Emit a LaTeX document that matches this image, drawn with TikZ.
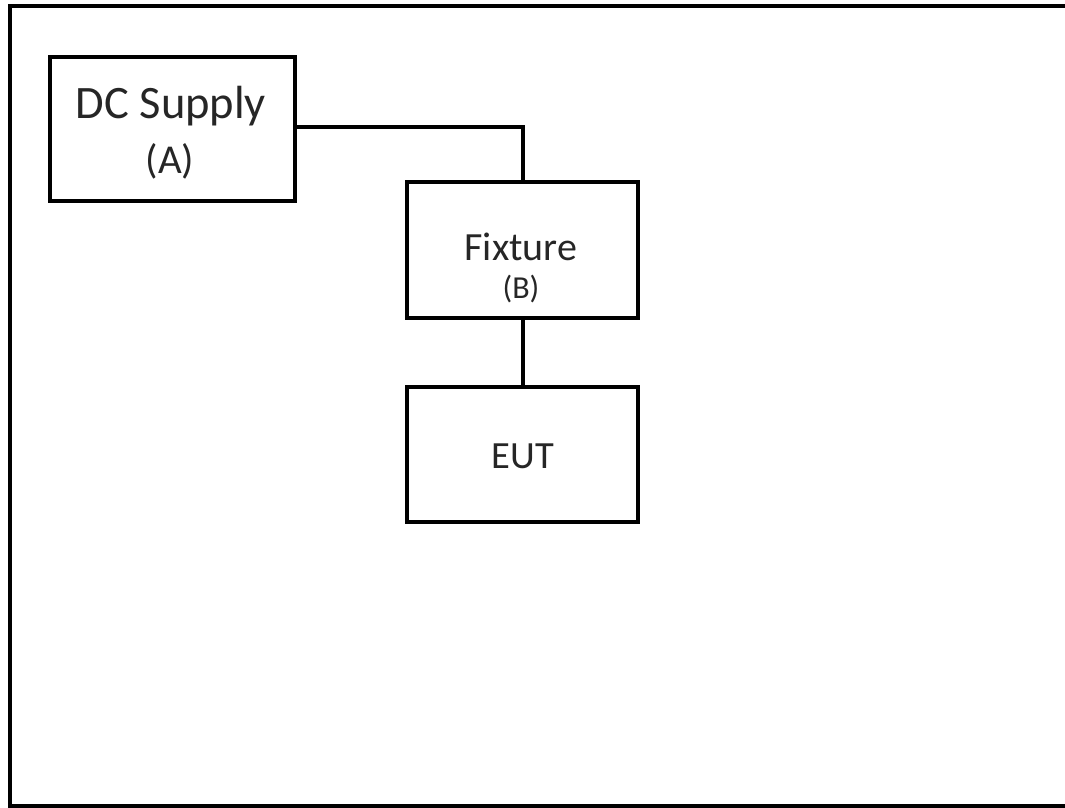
\documentclass[tikz,border=0pt]{standalone}
\usepackage{fontspec}
\setmainfont{Carlito}
\tikzset{
  box/.style={draw=black, line width=4pt, minimum width=231pt, minimum height=136pt, inner sep=0pt},
  wire/.style={draw=black, line width=4pt},
  lbl/.style={anchor=base, inner sep=0pt, text=black!85}
}
\begin{document}
\begin{tikzpicture}[x=1pt,y=-1pt]
\useasboundingbox (0,0) rectangle (1065,808);
\clip (0,0) rectangle (1065,808);
\draw[line width=4pt] (10,6) rectangle (1080,806);
\node[box, minimum width=245pt, minimum height=144pt] (dc) at (172.5,129) {};
\node[box] (fix) at (522.5,250) {};
\node[box, minimum height=135pt] (eut) at (522.5,454.5) {};
\node[lbl, font=\fontsize{46.5}{50}\selectfont] (dct) at (171,118) {DC Supply};
\node[lbl, font=\fontsize{41}{46}\selectfont] (dca) at (170,173) {(A)};
\node[lbl, font=\fontsize{40}{44}\selectfont] (fixt) at (521,260) {Fixture};
\node[lbl, font=\fontsize{32}{38}\selectfont] (fixb) at (521,298) {(B)};
\node[lbl, font=\fontsize{38.5}{42}\selectfont] (eutt) at (523,468) {EUT};
\draw[wire] (dc.east |- 0,127) -| (fix.north);
\draw[wire] (fix.south) -- (eut.north);
\end{tikzpicture}
\end{document}
